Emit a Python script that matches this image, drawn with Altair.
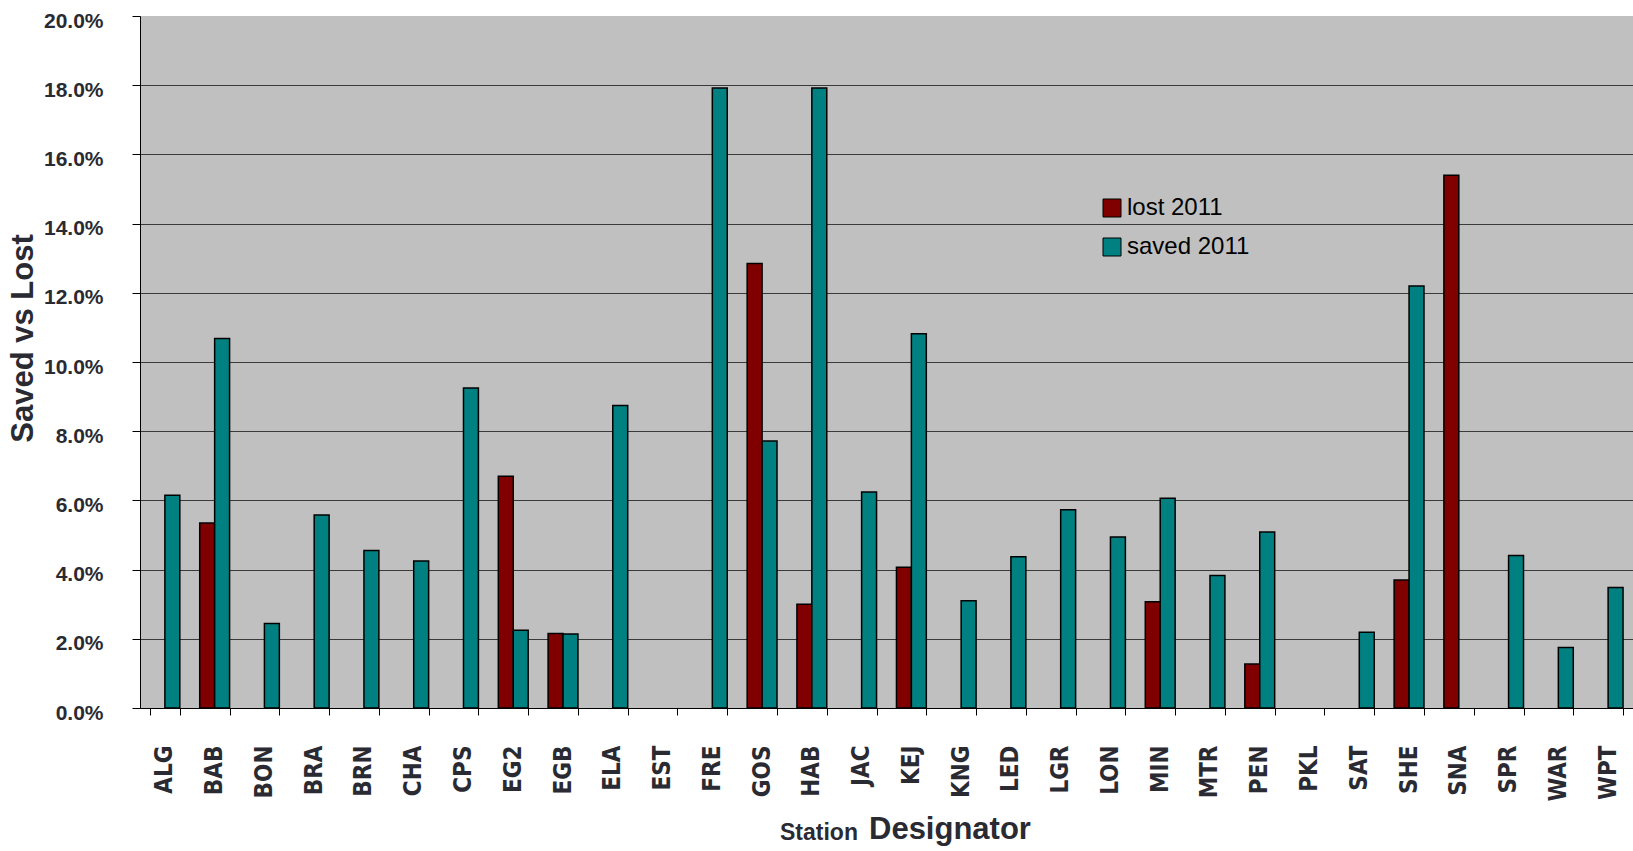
import altair as alt
import pandas as pd

stations = ["ALG", "BAB", "BON", "BRA", "BRN", "CHA", "CPS", "EG2", "EGB", "ELA",
            "EST", "FRE", "GOS", "HAB", "JAC", "KEJ", "KNG", "LED", "LGR", "LON",
            "MIN", "MTR", "PEN", "PKL", "SAT", "SHE", "SNA", "SPR", "WAR", "WPT"]
# percentages (None = no bar)
lost_2011 = [None, 5.35, None, None, None, None, None, 6.70, 2.15, None,
             None, None, 12.85, 3.00, None, 4.07, None, None, None, None,
             3.07, None, 1.27, None, None, 3.70, 15.40, None, None, None]
saved_2011 = [6.15, 10.68, 2.44, 5.58, 4.55, 4.25, 9.25, 2.25, 2.14, 8.74,
              None, 17.92, 7.72, 17.92, 6.24, 10.82, 3.10, 4.37, 5.73, 4.94,
              6.06, 3.83, 5.09, None, 2.19, 12.20, None, 4.41, 1.75, 3.48]
series_names = ["lost 2011", "saved 2011"]
series_colors = ["#800000", "#008080"]

rows = []
for s, lv, sv in zip(stations, lost_2011, saved_2011):
    if lv is not None:
        rows.append({"station": s, "series": series_names[0], "value": lv / 100})
    if sv is not None:
        rows.append({"station": s, "series": series_names[1], "value": sv / 100})
df = pd.DataFrame(rows)

TXT = "#2a2a33"
BOLD_FONT = "Liberation Sans"
NARROW_FONT = "Liberation Sans Narrow, DejaVu Sans Condensed, Liberation Sans"

bars = alt.Chart(df).mark_bar(stroke="black", strokeWidth=1.5).encode(
    x=alt.X("station:N", sort=stations,
            scale=alt.Scale(domain=stations, paddingInner=0.4, paddingOuter=0.2),
            axis=alt.Axis(title=None, labelAngle=270, labelFont=NARROW_FONT,
                          labelFontSize=24, labelFontWeight="bold", labelColor=TXT,
                          labelPadding=30, tickBand="extent", tickSize=7,
                          tickColor="black", domainColor="black", grid=False)),
    xOffset=alt.XOffset("series:N", sort=series_names,
                        scale=alt.Scale(domain=series_names, paddingInner=0, paddingOuter=0)),
    y=alt.Y("value:Q", scale=alt.Scale(domain=[0, 0.2], nice=False),
            axis=alt.Axis(title="Saved vs Lost", format=".1%",
                          values=[0, 0.02, 0.04, 0.06, 0.08, 0.10, 0.12, 0.14, 0.16, 0.18, 0.20],
                          labelFont=BOLD_FONT, labelFontSize=21, labelFontWeight="bold",
                          labelColor=TXT, labelPadding=29, labelOffset=5,
                          tickSize=8, tickColor="black", domainColor="black",
                          gridColor="#3a3a3a", gridWidth=1,
                          gridOpacity=alt.condition("datum.value >= 0.199", alt.value(0), alt.value(1)),
                          titleFont=BOLD_FONT, titleFontSize=31, titleFontWeight="bold",
                          titleColor=TXT, titleX=-117, titleY=322, titleAngle=270,
                          titleAlign="center", titleBaseline="middle")),
    color=alt.Color("series:N",
                    scale=alt.Scale(domain=series_names, range=series_colors),
                    legend=alt.Legend(title=None, orient="none", legendX=960, legendY=180,
                                      symbolType="square", symbolSize=324,
                                      symbolStrokeColor="black", symbolStrokeWidth=1,
                                      labelFont="Liberation Sans", labelFontSize=24,
                                      labelColor="black", labelOffset=3, rowPadding=15)),
)

station_txt = alt.Chart(pd.DataFrame({"t": ["Station"]})).mark_text(
    align="left", baseline="alphabetic", font=BOLD_FONT, fontSize=23,
    fontWeight="bold", color=TXT
).encode(text="t:N", x=alt.value(640), y=alt.value(824))

design_txt = alt.Chart(pd.DataFrame({"t": ["Designator"]})).mark_text(
    align="left", baseline="alphabetic", font=BOLD_FONT, fontSize=31,
    fontWeight="bold", color=TXT
).encode(text="t:N", x=alt.value(729), y=alt.value(823))

chart = alt.layer(bars, station_txt, design_txt).properties(
    width=1493, height=692,
    autosize=alt.AutoSizeParams(type="none"),
    padding={"left": 140, "top": 16, "right": 0, "bottom": 143},
    background="white",
).configure_view(fill="#C0C0C0", strokeWidth=0)

chart.save("out.html", embed_options={"renderer": "svg", "actions": False})
